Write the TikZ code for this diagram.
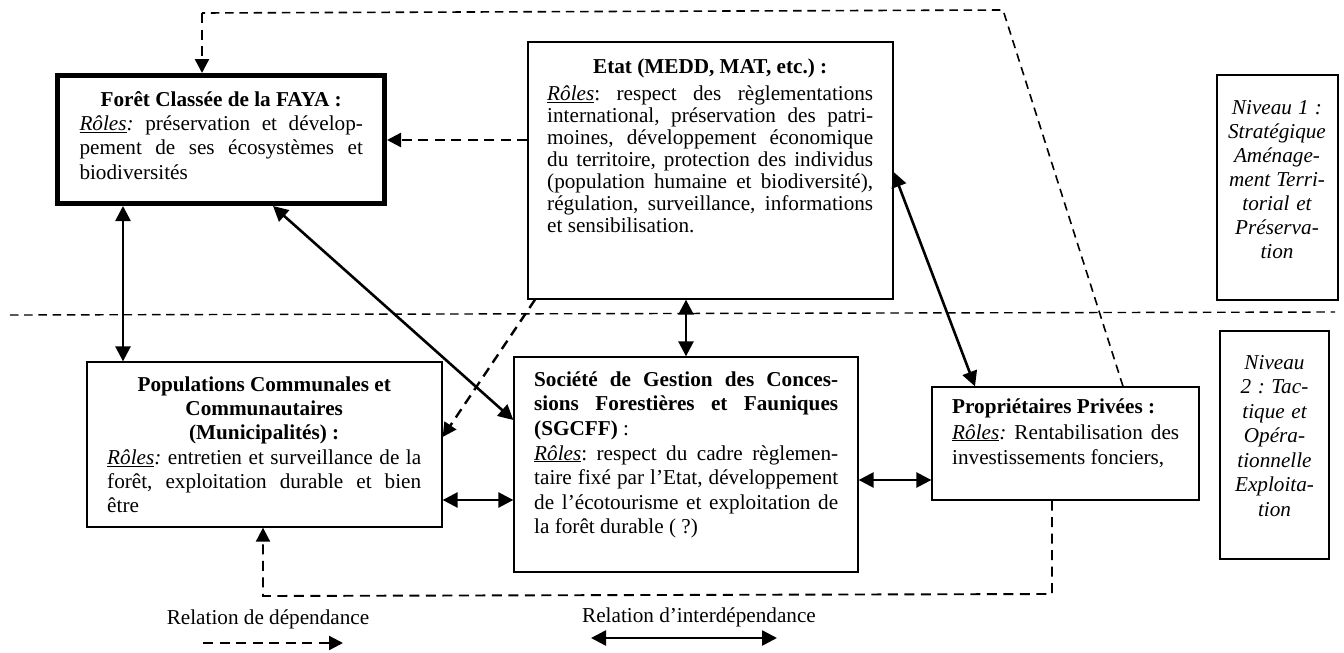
\documentclass[tikz,border=0pt]{standalone}
\usepackage{fontspec}
\setmainfont{Liberation Serif}
\usetikzlibrary{arrows.meta}
\frenchspacing
\newcommand\ro{\underline{\textit{Rôles}}}
\newcommand\JL[2][s]{\makebox[\linewidth][#1]{\spaceskip=0pt\xspaceskip=0pt #2}}
\newcommand\st{\rule{0pt}{17pt}}
\newcommand\nsp{\spaceskip=0pt\xspaceskip=0pt }
\begin{document}
\begin{tikzpicture}[x=1pt,y=-1pt,
  bx/.style={draw, line width=1.3pt, inner sep=0pt},
  txt/.style={anchor=north west, inner sep=0pt, align=left},
  ctxt/.style={anchor=north, inner sep=0pt, align=center},
  fA/.style={font=\fontsize{21.2}{24.3}\selectfont},
  solid2/.style={line width=2.6pt, {Triangle[length=15pt,width=15pt]}-{Triangle[length=15pt,width=15pt]}},
  dep/.style={line width=2.4pt, dash pattern=on 10pt off 6.5pt, -{Triangle[length=14pt,width=14pt]}},
  thindash/.style={line width=1.4pt, dash pattern=on 8.5pt off 5.7pt}]
\useasboundingbox[fill=white] (0,0) rectangle (1344,653);

% boxes
\node[bx, line width=5pt, minimum width=327pt, minimum height=128pt] (fr) at (221,139.5) {};
\node[bx, minimum width=365pt, minimum height=257pt] (et) at (710.5,170.5) {};
\node[bx, minimum width=355pt, minimum height=165pt] (po) at (264.5,444.5) {};
\node[bx, minimum width=344pt, minimum height=215pt] (sg) at (686,464.5) {};
\node[bx, minimum width=267pt, minimum height=113pt] (pp) at (1065.5,443.5) {};
\node[bx, minimum width=121pt, minimum height=225pt] (n1) at (1277.5,187.5) {};
\node[bx, minimum width=109pt, minimum height=228pt] (n2) at (1274.5,445) {};

% texts
\node[txt, fA, text width=283.4pt] (frT) at (79.3,89) {%
\JL[c]{\st\textbf{Forêt Classée de la FAYA :}}\\
\JL{\ro\textit{:} préservation et dévelop-}\\
\JL{pement de ses écosystèmes et}\\
\JL[l]{biodiversités}};

\node[txt, font=\fontsize{21.2}{22}\selectfont, text width=326pt] (etT) at (547,56.3) {%
\JL[c]{\st\textbf{Etat (MEDD, MAT, etc.) :}}\\[4.7pt]
\JL{\ro: respect des règlementations}\\
\JL{international, préservation des patri-}\\
\JL{moines, développement économique}\\
\JL{du territoire, protection des individus}\\
\JL{(population humaine et biodiversité),}\\
\JL{régulation, surveillance, informations}\\
\JL[l]{et sensibilisation.}};

\node[txt, fA, text width=314pt] (poT) at (107,374) {%
\JL[c]{\st\textbf{Populations Communales et}}\\
\JL[c]{\textbf{Communautaires}}\\
\JL[c]{\textbf{(Municipalités) :}}\\
\JL{\ro\textit{:} entretien et surveillance de la}\\
\JL{forêt, exploitation durable et bien}\\
\JL[l]{être}};

\node[txt, font=\fontsize{21.2}{24.6}\selectfont, text width=304pt] (sgT) at (534,369) {%
\JL{\st\textbf{Société de Gestion des Conces-}}\\
\JL{\textbf{sions Forestières et Fauniques}}\\
\JL[l]{\textbf{(SGCFF)} :}\\
\JL{\ro: respect du cadre règlemen-}\\
\JL{taire fixé par l’Etat, développement}\\
\JL{de l’écotourisme et exploitation de}\\
\JL[l]{la forêt durable ( ?)}};

\node[txt, font=\fontsize{21.2}{25.3}\selectfont, text width=227pt] (ppT) at (952,396.5) {%
\JL[l]{\st\textbf{Propriétaires Privées :}}\\
\JL{\ro\textit{:} Rentabilisation des}\\
\JL[l]{investissements fonciers,}};

\node[ctxt, font=\fontsize{21.2}{24.1}\selectfont\itshape, text width=118pt] (n1T) at (1277,97) {%
\nsp\st Niveau 1 :\\ Stratégique\\ Aménage-\\ ment Terri-\\ torial et\\ Préserva-\\ tion};

\node[ctxt, font=\fontsize{21.2}{24.5}\selectfont\itshape, text width=106pt] (n2T) at (1274.5,352) {%
\nsp\st Niveau\\ 2 : Tac-\\ tique et\\ Opéra-\\ tionnelle\\ Exploita-\\ tion};

% legend texts
\node[fA, anchor=base, inner sep=0pt] (lg1) at (268,624) {Relation de dépendance};
\node[fA, anchor=base, inner sep=0pt] (lg2) at (699,622) {Relation d’interdépendance};

% coordinates
\coordinate (tr) at (1003,10);
\coordinate (tl) at (202,13);
\coordinate (br) at (1052,594);
\coordinate (bl) at (263,596);
\coordinate (s1) at (10,315);
\coordinate (s2) at (1335,312);
\coordinate (la1) at (203,643);
\coordinate (la2) at (343,643);
\coordinate (lb1) at (591,638);
\coordinate (lb2) at (777,638);

% separator
\draw[thindash] (s1) -- (s2);

% dependency routes
\draw[thindash, line width=1.6pt] (pp.north -| 1123,0) -- (tr) -- (tl);
\draw[dep] (tl) -- (fr.north -| 202,0);
\draw[dep] (et.west |- 0,140) -- (fr.east |- 0,140);
\draw[dep] (et.south -| 535,0) -- (po.east |- 0,437);
\draw[dep, line width=1.9pt] (pp.south -| 1052,0) -- (br) -- (bl) -- (po.south -| 263,0);

% interdependencies
\draw[solid2] (fr.south -| 123,0) -- (po.north -| 123,0);
\draw[solid2] (fr.south -| 273,0) -- (sg.west |- 0,420);
\draw[solid2] (et.south -| 686,0) -- (sg.north -| 686,0);
\draw[solid2] (et.east |- 0,172) -- (pp.north -| 975,0);
\draw[solid2] (po.east |- 0,500) -- (sg.west |- 0,500);
\draw[solid2] (sg.east |- 0,480) -- (pp.west |- 0,480);

% legend arrows
\draw[dep] (la1) -- (la2);
\draw[solid2] (lb1) -- (lb2);
\end{tikzpicture}
\end{document}
